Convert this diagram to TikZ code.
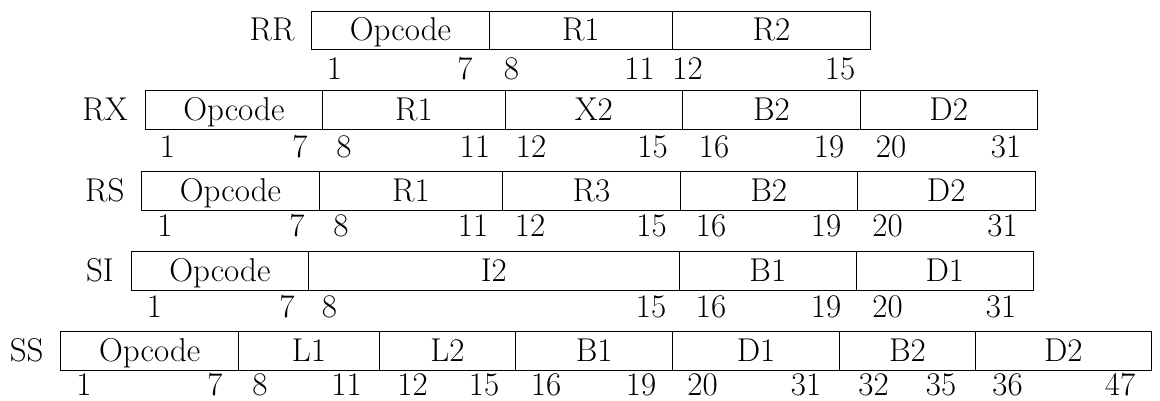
\documentclass[tikz,border=0pt]{standalone}
\usepackage{tikz}
\tikzset{
  fld/.style={draw=black, line width=0.9pt, inner sep=0pt, outer sep=0pt,
    minimum height=38.3pt, text height=26pt, text depth=4.7pt},
  num/.style={inner sep=0pt},
  lbl/.style={inner sep=0pt, anchor=east}
}
% name, left, right, top, text
\newcommand\fld[5]{\node[fld, anchor=north west, minimum width={(#3)-(#2)}] (#1) at (#2,#4) {#5};}
\begin{document}
\begin{tikzpicture}[x=1pt,y=-1pt,font=\fontsize{33}{40}\selectfont]
\useasboundingbox (0,0) rectangle (1160,400);
% ---------- RR
\node[lbl] (lrr) at (294.7,29.5) {RR};
\fld{rr1}{311.7}{489.3}{11}{Opcode}
\fld{rr2}{489.3}{672.3}{11}{R1}
\fld{rr3}{672.3}{870.7}{11}{R2}
\node[num] (rra) at (334.5,69) {1};
\node[num] (rrb) at (465,69) {7};
\node[num] (rrc) at (511.5,69) {8};
\node[num] (rrd) at (639.5,69) {11};
\node[num] (rre) at (687.5,69) {12};
\node[num] (rrf) at (840,69) {15};
% ---------- RX
\node[lbl] (lrx) at (128,109.2) {RX};
\fld{rx1}{145}{322.7}{90.7}{Opcode}
\fld{rx2}{322.7}{505}{90.7}{R1}
\fld{rx3}{505}{682.7}{90.7}{X2}
\fld{rx4}{682.7}{860.3}{90.7}{B2}
\fld{rx5}{860.3}{1037}{90.7}{D2}
\node[num] (rxa) at (167.5,147) {1};
\node[num] (rxb) at (300,147) {7};
\node[num] (rxc) at (344,147) {8};
\node[num] (rxd) at (475,147) {11};
\node[num] (rxe) at (531,147) {12};
\node[num] (rxf) at (652.5,147) {15};
\node[num] (rxg) at (714,147) {16};
\node[num] (rxh) at (829,147) {19};
\node[num] (rxi) at (891,147) {20};
\node[num] (rxj) at (1006,147) {31};
% ---------- RS
\node[lbl] (lrs) at (124.7,190.2) {RS};
\fld{rs1}{141.7}{319.3}{171.7}{Opcode}
\fld{rs2}{319.3}{502.7}{171.7}{R1}
\fld{rs3}{502.7}{680}{171.7}{R3}
\fld{rs4}{680}{857.3}{171.7}{B2}
\fld{rs5}{857.3}{1035}{171.7}{D2}
\node[num] (rsa) at (165,226) {1};
\node[num] (rsb) at (297,226) {7};
\node[num] (rsc) at (341,226) {8};
\node[num] (rsd) at (473,226) {11};
\node[num] (rse) at (530,226) {12};
\node[num] (rsf) at (651.5,226) {15};
\node[num] (rsg) at (711,226) {16};
\node[num] (rsh) at (826,226) {19};
\node[num] (rsi) at (887.5,226) {20};
\node[num] (rsj) at (1002.5,226) {31};
% ---------- SI
\node[lbl] (lsi) at (114,270.2) {SI};
\fld{si1}{131}{308.7}{251.7}{Opcode}
\fld{si2}{308.7}{679}{251.7}{I2}
\fld{si3}{679}{856.7}{251.7}{B1}
\fld{si4}{856.7}{1033}{251.7}{D1}
\node[num] (sia) at (154.5,307) {1};
\node[num] (sib) at (287,307) {7};
\node[num] (sic) at (329.5,307) {8};
\node[num] (sid) at (651,307) {15};
\node[num] (sie) at (711,307) {16};
\node[num] (sif) at (826,307) {19};
\node[num] (sig) at (887.5,307) {20};
\node[num] (sih) at (1001,307) {31};
% ---------- SS
\node[lbl] (lss) at (43.7,350.2) {SS};
\fld{ss1}{60.7}{238.7}{331.7}{Opcode}
\fld{ss2}{238.7}{379.3}{331.7}{L1}
\fld{ss3}{379.3}{515.7}{331.7}{L2}
\fld{ss4}{515.7}{672.7}{331.7}{B1}
\fld{ss5}{672.7}{839.3}{331.7}{D1}
\fld{ss6}{839.3}{975.7}{331.7}{B2}
\fld{ss7}{975.7}{1151}{331.7}{D2}
\node[num] (ssa) at (84,385) {1};
\node[num] (ssb) at (215,385) {7};
\node[num] (ssc) at (260,385) {8};
\node[num] (ssd) at (346.5,385) {11};
\node[num] (sse) at (412.5,385) {12};
\node[num] (ssf) at (484,385) {15};
\node[num] (ssg) at (546,385) {16};
\node[num] (ssh) at (641,385) {19};
\node[num] (ssi) at (702.5,385) {20};
\node[num] (ssj) at (806,385) {31};
\node[num] (ssk) at (873.5,385) {32};
\node[num] (ssl) at (941,385) {35};
\node[num] (ssm) at (1007.5,385) {36};
\node[num] (ssn) at (1120,385) {47};
\end{tikzpicture}
\end{document}
